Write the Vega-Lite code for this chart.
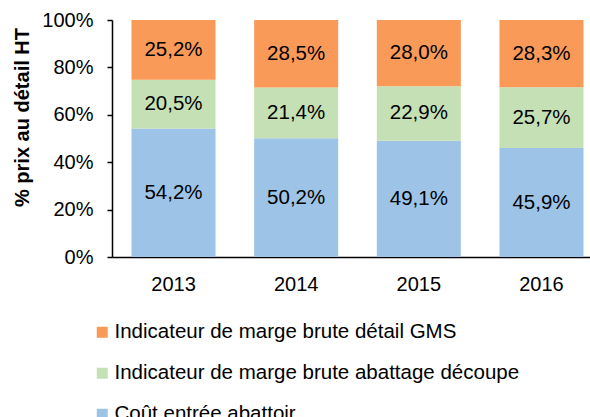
{
  "$schema": "https://vega.github.io/schema/vega-lite/v6.json",
  "autosize": {"type": "none"},
  "width": 478,
  "height": 237,
  "padding": {"left": 112, "top": 20, "right": 0, "bottom": 160},
  "background": "white",
  "config": {
    "view": {"stroke": null},
    "font": "Liberation Sans",
    "axis": {"grid": false, "domainColor": "black", "tickColor": "black", "labelColor": "black", "titleColor": "black", "labelFont": "Liberation Sans", "titleFont": "Liberation Sans"}
  },
  "data": {
    "values": [
      {"annee": "2013", "poste": "Coût entrée abattoir", "ordre": 1, "valeur": 54.2, "label": "54,2%"},
      {"annee": "2013", "poste": "Indicateur de marge brute abattage découpe", "ordre": 2, "valeur": 20.5, "label": "20,5%"},
      {"annee": "2013", "poste": "Indicateur de marge brute détail GMS", "ordre": 3, "valeur": 25.2, "label": "25,2%"},
      {"annee": "2014", "poste": "Coût entrée abattoir", "ordre": 1, "valeur": 50.2, "label": "50,2%"},
      {"annee": "2014", "poste": "Indicateur de marge brute abattage découpe", "ordre": 2, "valeur": 21.4, "label": "21,4%"},
      {"annee": "2014", "poste": "Indicateur de marge brute détail GMS", "ordre": 3, "valeur": 28.5, "label": "28,5%"},
      {"annee": "2015", "poste": "Coût entrée abattoir", "ordre": 1, "valeur": 49.1, "label": "49,1%"},
      {"annee": "2015", "poste": "Indicateur de marge brute abattage découpe", "ordre": 2, "valeur": 22.9, "label": "22,9%"},
      {"annee": "2015", "poste": "Indicateur de marge brute détail GMS", "ordre": 3, "valeur": 28.0, "label": "28,0%"},
      {"annee": "2016", "poste": "Coût entrée abattoir", "ordre": 1, "valeur": 45.9, "label": "45,9%"},
      {"annee": "2016", "poste": "Indicateur de marge brute abattage découpe", "ordre": 2, "valeur": 25.7, "label": "25,7%"},
      {"annee": "2016", "poste": "Indicateur de marge brute détail GMS", "ordre": 3, "valeur": 28.3, "label": "28,3%"}
    ]
  },
  "encoding": {
    "x": {
      "field": "annee", "type": "nominal", "title": null,
      "scale": {"range": [0, 491], "paddingInner": 0.315, "paddingOuter": 0.159},
      "axis": {"labelAngle": 0, "ticks": false, "labelFontSize": 20, "labelPadding": 17, "domainWidth": 1.5}
    },
    "y": {
      "field": "valeur", "type": "quantitative", "stack": "normalize",
      "scale": {"domain": [0, 1]},
      "axis": {"format": ".0%", "values": [0, 0.2, 0.4, 0.6, 0.8, 1], "tickSize": 5, "labelFontSize": 20, "labelPadding": 14, "domainWidth": 1.5, "tickWidth": 1.5,
        "title": "% prix au détail HT", "titleFontSize": 20, "titleFontWeight": "bold", "titleX": -90, "titleY": 97, "titleAlign": "center", "titleBaseline": "middle", "titleAngle": -90}
    },
    "order": {"field": "ordre", "type": "quantitative"}
  },
  "layer": [
    {
      "mark": {"type": "bar"},
      "encoding": {
        "color": {
          "field": "poste", "type": "nominal",
          "scale": {
            "domain": ["Indicateur de marge brute détail GMS", "Indicateur de marge brute abattage découpe", "Coût entrée abattoir"],
            "range": ["#FA9A58", "#C5E0B4", "#9DC3E6"]
          },
          "legend": {
            "title": null, "orient": "none", "legendX": -20, "legendY": 302, "direction": "vertical",
            "symbolType": "square", "symbolSize": 121, "symbolStrokeWidth": 0, "symbolOpacity": 1,
            "labelFontSize": 20.5, "labelFont": "Liberation Sans", "labelColor": "black", "labelOffset": 2,
            "rowPadding": 20, "labelLimit": 600
          }
        }
      }
    },
    {
      "mark": {"type": "text", "fontSize": 20.5, "font": "Liberation Sans", "color": "black", "baseline": "middle"},
      "encoding": {
        "y": {"field": "valeur", "type": "quantitative", "stack": "normalize", "bandPosition": 0.5},
        "detail": {"field": "poste"},
        "text": {"field": "label"}
      }
    }
  ]
}
